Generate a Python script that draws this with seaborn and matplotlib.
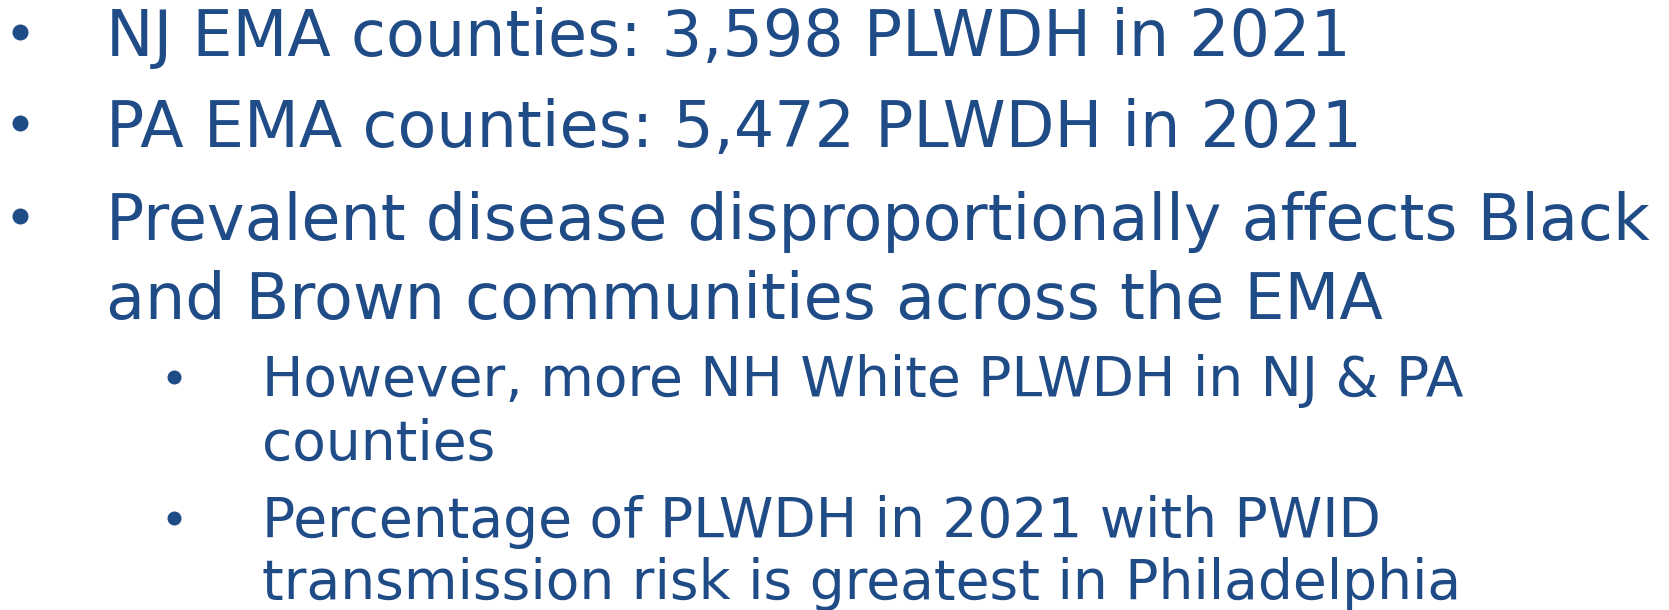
import matplotlib
matplotlib.use("Agg")
import matplotlib.pyplot as plt
import seaborn as sns

# Texto de la diapositiva
main_points = [
    ["NJ EMA counties: 3,598 PLWDH in 2021"],
    ["PA EMA counties: 5,472 PLWDH in 2021"],
    ["Prevalent disease disproportionally affects Black",
     "and Brown communities across the EMA"],
]
sub_points = [
    ["However, more NH White PLWDH in NJ & PA",
     "counties"],
    ["Percentage of PLWDH in 2021 with PWID",
     "transmission risk is greatest in Philadelphia"],
]

# Posiciones (pixeles) de las lineas base
main_baselines = [[56], [147], [240, 319]]
sub_baselines = [[396, 460], [537, 599]]

sns.set_theme(style="white")
plt.rcParams["font.family"] = ["DejaVu Sans"]

color = "#1F4B87"
W, H = 1669, 610
fig = plt.figure(figsize=(W / 100, H / 100), dpi=100)
ax = fig.add_axes([0, 0, 1, 1])

renderer = fig.canvas.get_renderer()


def fit_size(text, target_px, base=40):
    t = ax.text(0, 0, text, fontsize=base)
    w = t.get_window_extent(renderer).width
    t.remove()
    return base * target_px / w


main_size = fit_size(main_points[0][0], 1244)
sub_size = fit_size(sub_points[0][0], 1202)

# Vinetas como marcadores (diametro en pixeles -> area en pt^2)
main_dot = (16 * 0.72) ** 2
sub_dot = (14 * 0.72) ** 2
sns.scatterplot(x=[20] * len(main_baselines),
                y=[ys[0] - 24 for ys in main_baselines],
                s=main_dot, color=color, linewidth=0, ax=ax, legend=False)
sns.scatterplot(x=[174] * len(sub_baselines),
                y=[ys[0] - 19 for ys in sub_baselines],
                s=sub_dot, color=color, linewidth=0, ax=ax, legend=False)
ax.set_xlim(0, W)
ax.set_ylim(H, 0)
ax.axis("off")

for lines, ys in zip(main_points, main_baselines):
    for line, y in zip(lines, ys):
        ax.text(106, y, line, fontsize=main_size, color=color, va="baseline")

for lines, ys in zip(sub_points, sub_baselines):
    for line, y in zip(lines, ys):
        ax.text(262, y, line, fontsize=sub_size, color=color, va="baseline")

fig.savefig("out.png", dpi=100, facecolor="white")
